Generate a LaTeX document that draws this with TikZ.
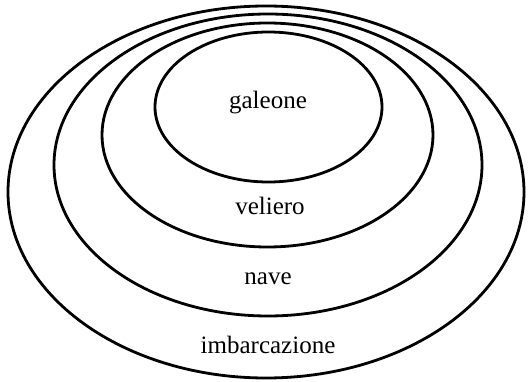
\documentclass[tikz,border=0pt]{standalone}
\usepackage{fontspec}
\setmainfont{Liberation Serif}
\usepackage{tikz}

\begin{document}
\begin{tikzpicture}[
    x=1pt, y=-1pt,
    every node/.style={font=\fontsize{25}{30}\selectfont},
    ring/.style={draw, line width=2.8pt},
    label/.style={inner sep=0pt, anchor=base}
  ]

  \useasboundingbox (0,0) rectangle (528,382);

  \draw[ring] (266,192) ellipse [x radius=258, y radius=186];
  \draw[ring] (268,165) ellipse [x radius=214, y radius=151];
  \draw[ring] (267.5,135) ellipse [x radius=165.5, y radius=112];
  \draw[ring] (268.5,107) ellipse [x radius=113.5, y radius=75];

  \node[label] (galeone) at (268,109) {galeone};
  \node[label] (veliero) at (270,215) {veliero};
  \node[label] (nave) at (268,285) {nave};
  \node[label] (imbarcazione) at (268,353) {imbarcazione};

\end{tikzpicture}
\end{document}
